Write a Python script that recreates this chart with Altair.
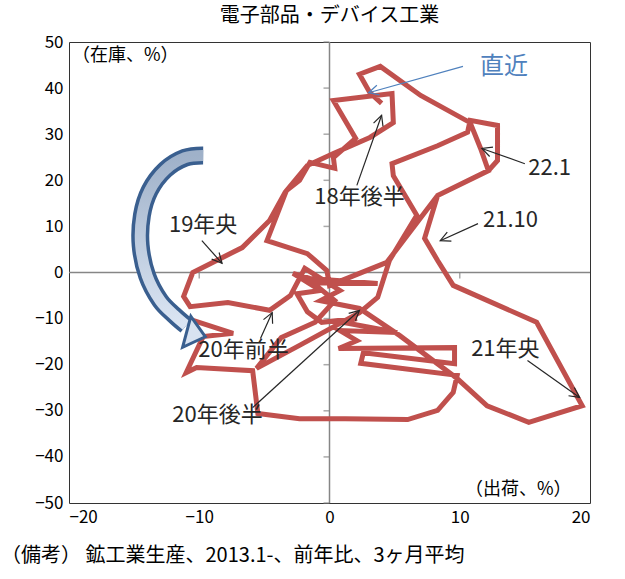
import math
import altair as alt
import pandas as pd

FONT = "Noto Sans CJK JP"
W, H = 521, 461

# shipments (x, %) and inventory (y, %), 3-month average, 2013.1 ->
path_x = [-10.9, -7.4, -9.7, -11.0, -10.2, -5.9, -5.5, -2.3, 1.2, 6.0,
          8.3, 9.5, 9.8, 2.4, 2.6, 9.6, 9.6, 0.7, 2.1, 0.8,
          5.2, 1.0, 2.1, -0.6, -1.7, -2.5, -0.7, -2.8, -1.5,
          3.7, -1.3, 0.4, -1.1, -3.7, -5.6, -2.3, 2.3, 3.7, 4.6,
          6.7, 4.9, 4.8, 8.3, 10.6, 10.8, 12.9, 12.9, 12.2, 8.3,
          4.4, 0.0, -0.2, -1.7, -4.8, -3.3, -2.3, -1.5, 0.4, 0.3,
          2.0, 0.3, 4.8, 4.9, 3.1, 0.3, -1.7, -3.4, -4.6, -6.7,
          -8.4, -10.5, -11.2, -10.7, -7.8, -4.6, -3.0, -1.9, 0.8, -0.7,
          2.3, 5.4, 9.8, 12.1, 15.3, 19.4, 15.9, 9.5, 8.3, 7.3,
          8.3, 12.2, 11.6, 10.8, 7.0, 3.9, 2.3, 3.1, 4.0]
path_y = [-10.0, -13.2, -13.9, -21.7, -20.6, -21.3, -30.6, -31.7, -31.7, -31.9,
          -29.9, -26.0, -22.3, -19.7, -17.4, -19.8, -16.3, -16.5, -14.8, -12.6,
          -13.0, -10.8, -10.0, -10.8, -8.5, -4.6, -3.9, -0.2, -1.3,
          -2.4, -2.2, -6.1, -10.8, -14.1, -20.8, -15.8, -8.7, -5.4, 2.6,
          12.4, 21.0, 23.6, 27.5, 30.4, 33.0, 31.9, 24.3, 22.1, 16.7,
          2.2, -2.8, 0.4, 4.1, 6.9, 17.8, 20.0, 23.9, 22.6, 24.9,
          29.1, 37.3, 38.8, 32.5, 29.3, 25.8, 23.2, 17.4, 11.3, 5.4,
          3.0, 0.0, -5.2, -7.4, -6.5, -8.2, -5.0, 0.9, -3.9, -6.1,
          -7.8, -13.7, -23.0, -28.9, -32.5, -28.9, -10.8, -2.8, 2.6, 7.4,
          16.7, 22.1, 26.9, 32.5, 38.4, 44.7, 43.0, 39.0, 36.7]

x_ticks = [-20, -10, 0, 10, 20]
y_ticks = [-50, -40, -30, -20, -10, 0, 10, 20, 30, 40, 50]

# annotations: label, text position, arrow tail, arrow tip, colour
ann_text = ["19年央", "18年後半", "直近", "22.1", "21.10", "21年央", "20年前半", "20年後半"]
ann_tx = [-9.7, 2.3, 13.4, 16.9, 13.9, 13.5, -6.6, -8.6]
ann_ty = [10.4, 16.3, 44.5, 22.6, 11.3, -16.5, -16.9, -31.0]
arr_x1 = [-9.8, 2.1, 10.25, 15.0, 11.4, 15.2, -5.3, -5.9]
arr_y1 = [6.9, 18.9, 44.7, 23.6, 10.6, -19.1, -14.3, -29.3]
arr_x2 = [-8.25, 4.0, 3.0, 11.7, 8.5, 19.2, -4.4, 2.3]
arr_y2 = [2.0, 34.1, 39.0, 26.9, 6.9, -27.1, -8.7, -8.2]
ann_col = ["#262626", "#262626", "#4f81bd", "#262626", "#262626", "#262626", "#262626", "#262626"]
ann_size = [22, 22, 24, 22, 22, 22, 22, 22]

# big curved blue arrow (centre line)
curve_x = [-9.7, -11.1, -12.6, -13.8, -14.4, -14.5, -14.0, -13.0, -11.9, -11.0]
curve_y = [25.4, 24.9, 22.3, 17.8, 12.4, 5.9, -0.7, -6.1, -9.3, -11.5]
head_x = [-10.25]
head_y = [-13.4]

df_path = pd.DataFrame({"i": range(len(path_x)), "x": path_x, "y": path_y})
df_curve = pd.DataFrame({"i": range(len(curve_x)), "x": curve_x, "y": curve_y})
df_head = pd.DataFrame({"x": head_x, "y": head_y})

angs = []
for a, b, c, d in zip(arr_x1, arr_y1, arr_x2, arr_y2):
    dxp = (c - a) * W / 40.0
    dyp = -(d - b) * H / 100.0
    angs.append((math.degrees(math.atan2(dyp, dxp)) + 360) % 360)
df_ann = pd.DataFrame({"t": ann_text, "tx": ann_tx, "ty": ann_ty,
                       "x1": arr_x1, "y1": arr_y1, "x2": arr_x2, "y2": arr_y2,
                       "col": ann_col, "fs": ann_size, "ang": angs})

XS = alt.Scale(domain=[-20, 20], nice=False, zero=False)
YS = alt.Scale(domain=[-50, 50], nice=False, zero=False)
AX = alt.Axis(values=x_ticks, title=None, grid=False, domain=False, ticks=False,
              labelFont=FONT, labelFontSize=17, labelColor="black", labelPadding=6)
AY = alt.Axis(values=y_ticks, title=None, grid=False, domain=False, ticks=False,
              labelFont=FONT, labelFontSize=17, labelColor="black", labelPadding=6)


def xe(f):
    return alt.X(f, type="quantitative", scale=XS, axis=AX)


def ye(f):
    return alt.Y(f, type="quantitative", scale=YS, axis=AY)


zero_v = alt.Chart(pd.DataFrame({"x": [0]})).mark_rule(color="#868686", strokeWidth=1.5).encode(x=xe("x"))
zero_h = alt.Chart(pd.DataFrame({"y": [0]})).mark_rule(color="#868686", strokeWidth=1.5).encode(y=ye("y"))

ticks_v = alt.Chart(pd.DataFrame({"y": y_ticks, "x": [0] * len(y_ticks)})).mark_tick(
    orient="horizontal", size=6, thickness=1.5, color="#868686", xOffset=-3
).encode(x=xe("x"), y=ye("y"))
ticks_h = alt.Chart(pd.DataFrame({"x": [-10, 10], "y": [0, 0]})).mark_tick(
    orient="vertical", size=6, thickness=1.5, color="#868686", yOffset=3
).encode(x=xe("x"), y=ye("y"))

line = alt.Chart(df_path).mark_line(color="#c0504d", strokeWidth=5, strokeJoin="miter").encode(
    x=xe("x"), y=ye("y"), order="i:Q")

inner_grad = alt.LinearGradient(
    gradient="linear",
    stops=[alt.GradientStop(color="#9fb1c9", offset=0), alt.GradientStop(color="#dbe5f3", offset=1)],
    x1=0, x2=0, y1=0, y2=1)

curve_out = alt.Chart(df_curve).mark_line(color="#3a5f8f", strokeWidth=18, strokeCap="butt",
                                          interpolate="cardinal").encode(x=xe("x"), y=ye("y"), order="i:Q")
curve_in = alt.Chart(df_curve).mark_line(color=inner_grad, strokeWidth=11, strokeCap="butt",
                                         interpolate="cardinal").encode(x=xe("x"), y=ye("y"), order="i:Q")
head = alt.Chart(df_head).mark_point(shape="M -0.6 -1 L 0.6 0 L -0.6 1 Z", filled=True, fill="#d8e2f1",
                                     stroke="#3a5f8f", strokeWidth=3, size=1024, angle=15, opacity=1).encode(
    x=xe("x"), y=ye("y"))

arr_line = alt.Chart(df_ann).mark_rule(strokeWidth=1.2).encode(
    x=xe("x1"), y=ye("y1"), x2="x2:Q", y2="y2:Q", color=alt.Color("col:N", scale=None))
arr_head = alt.Chart(df_ann).mark_point(shape="M -1 -0.5 L 0 0 L -1 0.5", filled=False, size=400,
                                        strokeWidth=1.2, opacity=1).encode(
    x=xe("x2"), y=ye("y2"), angle=alt.Angle("ang:Q", scale=None), color=alt.Color("col:N", scale=None))
ann = alt.Chart(df_ann).mark_text(font=FONT, align="center", baseline="middle").encode(
    x=xe("tx"), y=ye("ty"), text="t:N", color=alt.Color("col:N", scale=None),
    size=alt.Size("fs:Q", scale=None))

unit_y = alt.Chart(pd.DataFrame({"t": ["（在庫、%）"]})).mark_text(
    font=FONT, fontSize=18, align="left", baseline="middle", color="black").encode(
    text="t:N", x=alt.value(3), y=alt.value(14))
unit_x = alt.Chart(pd.DataFrame({"t": ["（出荷、%）"]})).mark_text(
    font=FONT, fontSize=18, align="left", baseline="middle", color="black").encode(
    text="t:N", x=alt.value(396), y=alt.value(448))
note = alt.Chart(pd.DataFrame({"t": ["（備考） 鉱工業生産、2013.1-、前年比、3ヶ月平均"]})).mark_text(
    font=FONT, fontSize=20, align="left", baseline="middle", color="black").encode(
    text="t:N", x=alt.value(-68), y=alt.value(514))
title = alt.Chart(pd.DataFrame({"t": ["電子部品・デバイス工業"]})).mark_text(
    font=FONT, fontSize=20, align="center", baseline="middle", color="black").encode(
    text="t:N", x=alt.value(W / 2), y=alt.value(-26))

chart = alt.layer(
    zero_v, zero_h, ticks_v, ticks_h, line, curve_out, curve_in, head,
    arr_line, arr_head, ann, unit_y, unit_x, note, title
).properties(
    width=W, height=H,
    padding={"left": 69, "top": 42, "right": 35, "bottom": 76},
    autosize="none",
).configure_view(stroke="#333333", strokeWidth=1)

chart.save("out.html", embed_options={"renderer": "svg", "actions": False})
